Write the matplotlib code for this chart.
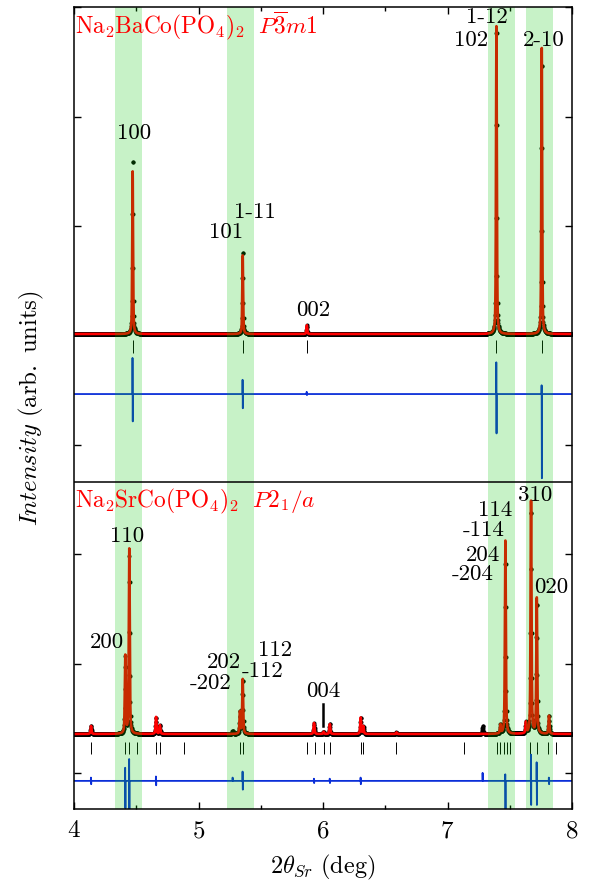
import numpy as np
import matplotlib
matplotlib.use('Agg')
import matplotlib.pyplot as plt
from matplotlib.ticker import MultipleLocator, FixedLocator, NullFormatter

plt.rcParams['mathtext.fontset'] = 'cm'
plt.rcParams['font.family'] = ['cmr10', 'DejaVu Sans']
plt.rcParams['axes.formatter.use_mathtext'] = True

# ---------------- data ----------------
# Na2BaCo(PO4)2, P-3m1 (upper pattern)
ba_peak_pos = [4.471, 5.355, 5.870, 7.393, 7.757]
ba_calc_int = [1.49, 0.72, 0.08, 2.82, 2.62]
ba_obs_int = [1.66, 0.78, 0.08, 2.90, 2.58]
ba_bragg_pos = [4.471, 5.355, 5.870, 7.393, 7.757]
ba_diff_pos = [4.471, 5.355, 5.870, 7.393, 7.757]
ba_diff_up = [0.33, 0.13, 0.02, 0.29, 0.08]
ba_diff_down = [0.25, 0.13, 0.01, 0.36, 0.77]

# Na2SrCo(PO4)2, P2_1/a (lower pattern)
sr_peak_pos = [4.137, 4.412, 4.444, 4.659, 4.690, 5.333, 5.355, 5.928, 6.005,
               6.055, 6.303, 6.324, 6.590, 7.425, 7.465, 7.630, 7.671, 7.717, 7.815]
sr_calc_int = [0.073, 0.71, 1.69, 0.155, 0.08, 0.20, 0.50, 0.10, 0.02,
               0.09, 0.15, 0.07, 0.015, 0.08, 1.77, 0.10, 2.13, 1.24, 0.165]
sr_obs_int = [0.073, 0.70, 1.62, 0.155, 0.08, 0.21, 0.50, 0.10, 0.02,
              0.09, 0.15, 0.07, 0.015, 0.08, 1.62, 0.10, 2.10, 1.22, 0.165]
sr_obs_extra_pos = [5.275, 7.283]
sr_obs_extra_int = [0.03, 0.073]
sr_bragg_pos = [4.137, 4.412, 4.444, 4.503, 4.659, 4.690, 4.886, 5.333, 5.355,
                5.868, 5.935, 6.005, 6.055, 6.303, 6.324, 6.590, 7.135, 7.395,
                7.420, 7.450, 7.475, 7.500, 7.660, 7.717, 7.810, 7.870]
sr_diff_pos = [4.137, 4.412, 4.444, 4.659, 5.275, 5.355, 5.928, 6.055, 6.303,
               7.283, 7.465, 7.671, 7.717, 7.815]
sr_diff_up = [0.03, 0.12, 0.20, 0.04, 0.03, 0.085, 0.02, 0.02, 0.03,
              0.073, 0.06, 0.24, 0.17, 0.03]
sr_diff_down = [0.03, 0.25, 0.27, 0.04, 0.0, 0.08, 0.02, 0.02, 0.03,
                0.0, 0.27, 0.22, 0.22, 0.03]

# highlighted 2theta regions
band_lo = [4.329, 5.226, 7.328, 7.631]
band_hi = [4.543, 5.446, 7.542, 7.845]

# reflection labels
ba_labels = ['100', '101', '1-11', '002', '1-12', '102', '2-10']
sr_labels = ['110', '200', '202', '-202', '112', '-112', '004',
             '114', '-114', '204', '-204', '310', '020']

# ---------------- helpers ----------------
def profile(x, pos, amp, fwhm=0.008, eta=0.5):
    y = np.zeros_like(x)
    for p, a in zip(pos, amp):
        d = (x - p) / (fwhm / 2)
        y += a * (eta / (1 + d ** 2) + (1 - eta) * np.exp(-np.log(2) * d ** 2))
    return y

def diff_line(pos, up, down, base, d=0.001):
    xs, ys = [4.0], [base]
    for p, u, w in zip(pos, up, down):
        xs += [p - 2 * d, p - d, p + d, p + 2 * d]
        ys += [base, base + u, base - w, base]
    xs.append(8.0)
    ys.append(base)
    return xs, ys

fig = plt.figure(figsize=(5.89, 8.84), dpi=100)
ax = fig.add_axes([74 / 589, 1 - 809 / 884, (572 - 74) / 589, (809 - 7.3) / 884])

x_calc = np.arange(4.0, 8.0001, 0.0004)
x_obs = np.arange(4.0, 8.0001, 0.002)

red = '#ff0000'
blue = '#0b2fd8'

# upper pattern
ba_base, ba_dbase = 4.013, 3.464
ax.plot(x_obs, ba_base + profile(x_obs, ba_peak_pos, ba_obs_int), 'o', color='black',
        ms=2.9, mew=0, zorder=2)
ax.plot(x_calc, ba_base + profile(x_calc, ba_peak_pos, ba_calc_int), color=red,
        lw=1.9, zorder=3)
ax.vlines(ba_bragg_pos, 3.84, 3.96, color='black', lw=0.7, zorder=3)
dx, dy = diff_line(ba_diff_pos, ba_diff_up, ba_diff_down, ba_dbase)
ax.plot(dx, dy, color=blue, lw=1.3, zorder=3)

# lower pattern
sr_base, sr_dbase = 0.356, -0.073
sr_obs = profile(x_obs, sr_peak_pos, sr_obs_int, fwhm=0.009) + \
    profile(x_obs, sr_obs_extra_pos, sr_obs_extra_int, fwhm=0.009)
ax.plot(x_obs, sr_base + sr_obs, 'o', color='black', ms=2.9, mew=0, zorder=2)
ax.plot(x_calc, sr_base + profile(x_calc, sr_peak_pos, sr_calc_int, fwhm=0.009),
        color=red, lw=1.9, zorder=3)
ax.vlines(sr_bragg_pos, 0.174, 0.283, color='black', lw=0.7, zorder=3)
dx, dy = diff_line(sr_diff_pos, sr_diff_up, sr_diff_down, sr_dbase)
ax.plot(dx, dy, color=blue, lw=1.3, zorder=3)

# highlight bands (drawn over the data, translucent)
for lo, hi in zip(band_lo, band_hi):
    ax.axvspan(lo, hi, color=(0.0, 0.78, 0.0), alpha=0.22, lw=0, zorder=4)

# divider between the two patterns
ax.axhline(2.66, color='black', lw=1.1, zorder=5)

# titles
ax.text(4.008, 6.764, r'$\mathrm{Na_2BaCo(PO_4)_2}\ \ P\overline{3}m1$', color=red,
        fontsize=16.8, ha='left', va='baseline', zorder=6)
ax.text(4.008, 2.431, r'$\mathrm{Na_2SrCo(PO_4)_2}\ \ P2_1/a$', color=red,
        fontsize=16.8, ha='left', va='baseline', zorder=6)

ba_lab_xy = [(4.482, 5.845), (5.221, 4.945), (5.454, 5.128), (5.920, 4.232),
             (7.313, 6.906), (7.189, 6.700), (7.775, 6.700)]
for t, (x, y) in zip(ba_labels, ba_lab_xy):
    ax.text(x, y, t, fontsize=16.5, ha='center', va='center', family='cmr10', zorder=6)

sr_lab_xy = [(4.430, 2.166), (4.265, 1.197), (5.205, 1.015), (5.100, 0.823),
             (5.618, 1.124), (5.514, 0.932), (6.0, 0.750), (7.386, 2.399),
             (7.293, 2.217), (7.285, 1.988), (7.205, 1.814), (7.707, 2.536),
             (7.835, 1.696)]
for t, (x, y) in zip(sr_labels, sr_lab_xy):
    ax.text(x, y, t, fontsize=16.5, ha='center', va='center', family='cmr10', zorder=6)

# 004 pointer
ax.plot([6.0, 6.0], [0.43, 0.631], color='black', lw=1.8, zorder=6)

ax.set_xlim(4, 8)
ax.set_ylim(-0.33, 7.0)
ax.xaxis.set_major_locator(FixedLocator([4, 5, 6, 7, 8]))
ax.xaxis.set_minor_locator(MultipleLocator(0.5))
ax.set_xticklabels([r'$4$', r'$5$', r'$6$', r'$7$', r'$8$'])
ax.yaxis.set_major_locator(FixedLocator(range(0, 8)))
ax.yaxis.set_major_formatter(NullFormatter())
ax.tick_params(which='both', direction='in', top=True, right=True, width=1.0)
ax.tick_params(which='major', length=5, labelsize=18, pad=8)
ax.tick_params(which='minor', length=3)
for s in ax.spines.values():
    s.set_linewidth(1.1)
    s.set_zorder(5)

ax.set_xlabel(r'$2\theta_{Sr}\ \mathrm{(deg)}$', fontsize=17.5, labelpad=8)
ax.set_ylabel(r'$\mathit{Intensity}\ \mathrm{(arb.\ units)}$', fontsize=17.8, labelpad=12)

fig.savefig('out.png', dpi=100)
